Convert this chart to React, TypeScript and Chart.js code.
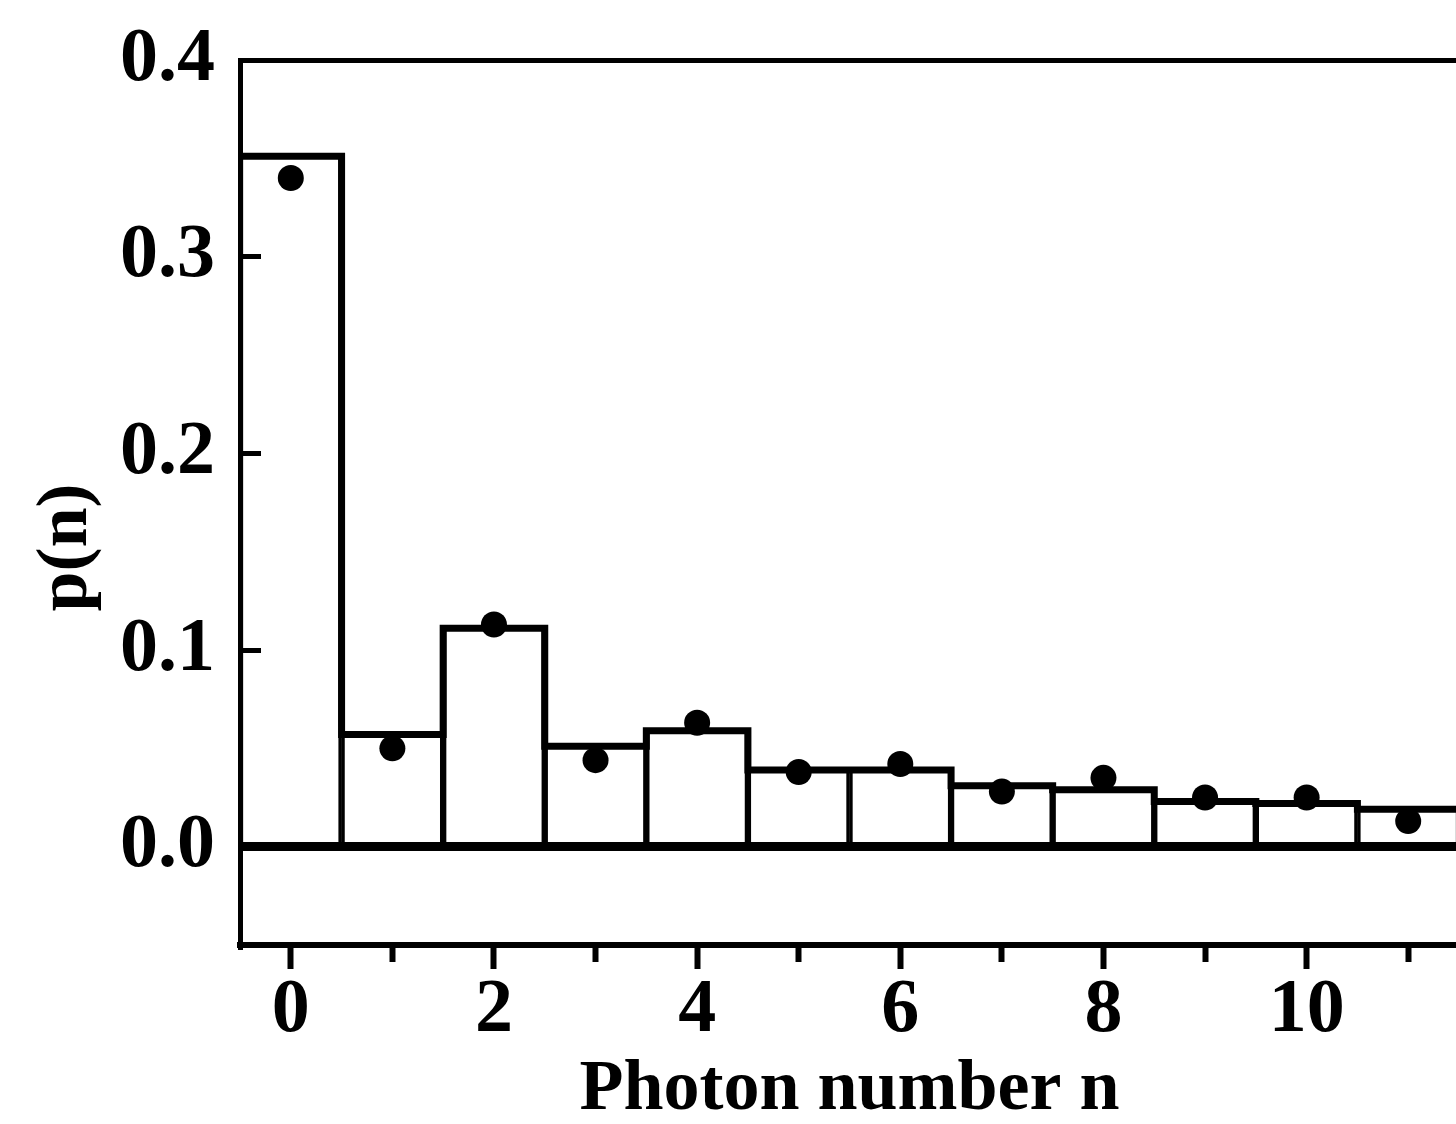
import React, { useEffect, useRef } from 'react';
import { Chart, registerables } from 'chart.js';

Chart.register(...registerables);

// ---- data ----
const photonNumbers = [0, 1, 2, 3, 4, 5, 6, 7, 8, 9, 10, 11];
const histogramValues = [0.351, 0.057, 0.111, 0.051, 0.059, 0.039, 0.039, 0.031, 0.029, 0.023, 0.022, 0.019];
const measuredValues = [0.340, 0.050, 0.113, 0.044, 0.063, 0.038, 0.042, 0.028, 0.035, 0.025, 0.025, 0.013];
const xTickValues = [0, 1, 2, 3, 4, 5, 6, 7, 8, 9, 10, 11];
const xLabeledTicks = [0, 2, 4, 6, 8, 10];
const yTickValues = [0, 0.1, 0.2, 0.3, 0.4];
const yTickLabels = ['0.0', '0.1', '0.2', '0.3', '0.4'];
const xAxisTitle = 'Photon number n';
const yAxisTitle = 'p(n)';
const xRange = [-0.5, 11.5];
const yRange = [-0.05, 0.4];

const FONT = "'Liberation Serif', 'Times New Roman', serif";

export default function App() {
  const ref = useRef<HTMLCanvasElement>(null);

  useEffect(() => {
    const canvas = ref.current;
    if (!canvas) return;
    Chart.defaults.font.family = FONT;
    Chart.defaults.color = '#000';

    const bars = photonNumbers.map((n, i) => ({ x: n, y: histogramValues[i] }));
    const outline = [
      { x: xRange[0], y: histogramValues[0] },
      ...bars,
      { x: xRange[1], y: histogramValues[histogramValues.length - 1] },
    ];
    const dots = photonNumbers.map((n, i) => ({ x: n, y: measuredValues[i] }));

    const tickFont = { family: FONT, size: 76, weight: 'bold' as const, lineHeight: 1 };
    const titleFont = { family: FONT, size: 72, weight: 'bold' as const, lineHeight: 1 };
    const isZero = (ctx: any) => !!ctx.tick && Math.abs(ctx.tick.value) < 1e-9;

    const chart = new Chart(canvas, {
      type: 'bar',
      data: {
        datasets: [
          {
            type: 'scatter',
            data: dots,
            xAxisID: 'x',
            yAxisID: 'y',
            pointRadius: 13,
            pointHoverRadius: 13,
            backgroundColor: '#000',
            borderColor: '#000',
            borderWidth: 0,
            order: 1,
          } as any,
          {
            type: 'line',
            data: outline,
            xAxisID: 'x',
            yAxisID: 'y',
            stepped: 'middle',
            borderColor: '#000',
            borderWidth: 7,
            borderJoinStyle: 'miter',
            pointRadius: 0,
            fill: false,
            order: 2,
          } as any,
          {
            type: 'bar',
            data: bars,
            xAxisID: 'x',
            yAxisID: 'y',
            backgroundColor: '#fff',
            borderColor: '#000',
            borderWidth: { left: 3.5, right: 3.5, top: 0, bottom: 0 },
            borderSkipped: false,
            barPercentage: 1,
            categoryPercentage: 1,
            order: 3,
          } as any,
        ],
      },
      options: {
        animation: false,
        responsive: false,
        maintainAspectRatio: false,
        events: [],
        layout: { padding: 0 },
        plugins: { legend: { display: false }, tooltip: { enabled: false } },
        scales: {
          x: {
            type: 'linear',
            position: 'bottom',
            offset: false,
            min: xRange[0],
            max: xRange[1],
            afterBuildTicks: (s: any) => {
              s.ticks = xTickValues.map((v) => ({ value: v }));
            },
            afterFit: (s: any) => {
              s.height = 179;
              s.paddingLeft = 0;
              s.paddingRight = 0;
            },
            ticks: {
              autoSkip: false,
              maxRotation: 0,
              minRotation: 0,
              color: '#000',
              padding: 4,
              font: tickFont,
              callback: (v: any) => (xLabeledTicks.includes(Number(v)) ? String(v) : ''),
            },
            grid: {
              offset: false,
              drawOnChartArea: false,
              drawTicks: true,
              tickLength: 24,
              tickWidth: 6,
              tickColor: '#000',
              tickBorderDash: (ctx: any) =>
                ctx.tick && xLabeledTicks.includes(ctx.tick.value) ? [] : [14, 200],
            },
            border: { display: true, color: '#000', width: 6 },
            title: {
              display: true,
              text: xAxisTitle,
              color: '#000',
              font: { ...titleFont, lineHeight: 0.9 },
              padding: { top: 0, bottom: 1 },
            },
          } as any,
          x2: {
            type: 'linear',
            position: 'top',
            axis: 'x',
            offset: false,
            min: xRange[0],
            max: xRange[1],
            afterFit: (s: any) => {
              s.height = 60;
              s.paddingLeft = 0;
              s.paddingRight = 0;
            },
            ticks: { display: false },
            grid: { display: false, drawTicks: false, offset: false },
            border: { display: true, color: '#000', width: 5 },
          } as any,
          y: {
            type: 'linear',
            position: 'left',
            min: yRange[0],
            max: yRange[1],
            afterBuildTicks: (s: any) => {
              s.ticks = yTickValues.map((v) => ({ value: v }));
            },
            afterFit: (s: any) => {
              s.width = 240;
              s.paddingTop = 0;
              s.paddingBottom = 0;
            },
            ticks: {
              color: '#000',
              padding: 25,
              font: tickFont,
              callback: (v: any) => {
                const i = yTickValues.findIndex((t) => Math.abs(t - Number(v)) < 1e-9);
                return i >= 0 ? yTickLabels[i] : '';
              },
            },
            grid: {
              z: 1,
              drawOnChartArea: true,
              drawTicks: false,
              tickLength: 0,
              color: '#000',
              lineWidth: (ctx: any) => (isZero(ctx) ? 9 : 5),
            },
            border: {
              display: true,
              color: '#000',
              width: 5,
              z: 1,
              dash: (ctx: any) => (ctx.tick && !isZero(ctx) ? [18, 4000] : []),
            },
            title: {
              display: true,
              text: yAxisTitle + '     ',
              color: '#000',
              font: titleFont,
              padding: { top: 31, bottom: 0 },
            },
          } as any,
        },
      },
    });

    return () => chart.destroy();
  }, []);

  return (
    <div
      style={{
        position: 'absolute',
        left: 0,
        top: 0,
        width: 1456,
        height: 1124,
        overflow: 'hidden',
        background: '#fff',
      }}
    >
      <canvas ref={ref} width={1472} height={1124} style={{ display: 'block' }} />
    </div>
  );
}
